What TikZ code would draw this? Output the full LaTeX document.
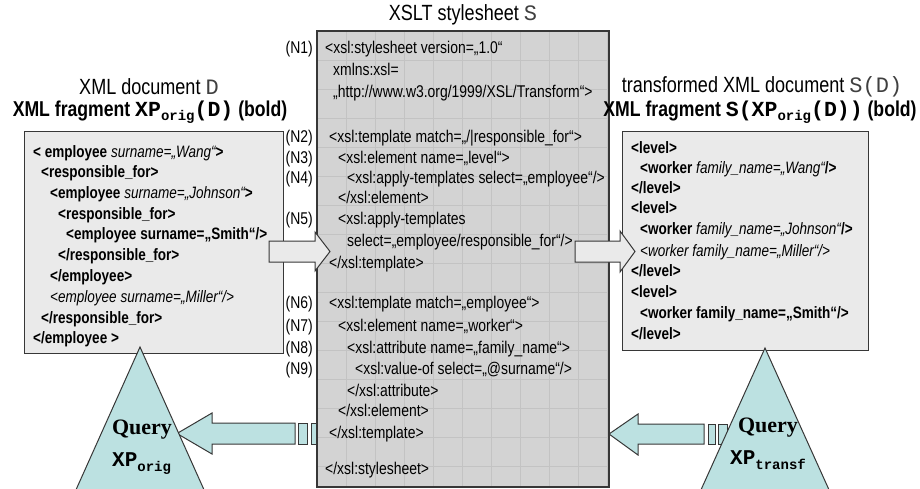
\documentclass[tikz,border=0pt]{standalone}
\usepackage{fontspec}
\setmainfont{Liberation Sans}[FakeStretch=0.82]
\setmonofont{Liberation Mono}
\newfontfamily\qserif{Liberation Serif}

\definecolor{sheetfill}{RGB}{211,211,211}
\definecolor{sheetgrid}{RGB}{195,195,195}
\definecolor{docfill}{RGB}{234,234,234}
\definecolor{queryfill}{RGB}{188,225,225}
\definecolor{edge}{RGB}{55,55,55}

\newcommand\attr[1]{{\mdseries\itshape #1}}

\tikzset{
  codeline/.style={anchor=base west, inner sep=0pt, font=\fontsize{17}{20}\selectfont},
  docline/.style={anchor=base west, inner sep=0pt, font=\fontsize{16.5}{20}\selectfont\bfseries},
  nlabel/.style={anchor=base east, inner sep=0pt, font=\fontsize{17}{20}\selectfont},
  heading/.style={inner sep=0pt, font=\fontsize{22}{24}\selectfont},
  boldheading/.style={inner sep=0pt, font=\fontsize{21.5}{24}\selectfont\bfseries},
  docbox/.style={draw=edge, line width=1pt, fill=docfill},
  blockarrow/.style={draw=edge, line width=1pt, fill=docfill, line join=miter},
  queryarrow/.style={draw=edge, line width=1pt, fill=queryfill, line join=miter},
  querytri/.style={draw=edge, line width=1pt, fill=queryfill, line join=miter},
  querylabel/.style={inner sep=0pt, font=\qserif\bfseries\fontsize{22}{24}\selectfont},
  querysub/.style={inner sep=0pt, anchor=base west, font=\ttfamily\bfseries\fontsize{21}{24}\selectfont},
}

\begin{document}
\begin{tikzpicture}[x=1pt, y=-1pt]
\useasboundingbox (0,0) rectangle (920,488);
\clip (0,0) rectangle (920,488);

% ---------- cyan query arrows (behind the stylesheet and the triangles)
\coordinate (qlt) at (177,433.5);
\draw[queryarrow] (qlt) -- (212,413) -- (212,423) -- (295,423) -- (295,444)
   -- (212,444) -- (212,454) -- cycle;
\draw[queryarrow] (298,423) rectangle (307,444);
\draw[queryarrow] (311,423) rectangle (320,444);

\coordinate (qrt) at (609,434);
\draw[queryarrow] (qrt) -- (638,414) -- (638,424) -- (704,424) -- (704,444)
   -- (638,444) -- (638,455) -- cycle;
\draw[queryarrow] (708,424) rectangle (715,444);
\draw[queryarrow] (718,424) rectangle (727,444);

% ---------- XSLT stylesheet panel with its faint grid
\node[heading] (sheettitle) at (463,15) {XSLT stylesheet {\ttfamily\color{black!75}S}};
\fill[sheetfill] (317,31) rectangle (609,487);
\begin{scope}
  \clip (317,31) rectangle (609,487);
  \foreach \k in {1,...,10} \draw[sheetgrid, line width=0.8pt] (317+29*\k,31) -- (317+29*\k,487);
  \foreach \k in {1,...,15} \draw[sheetgrid, line width=0.8pt] (317,31+29*\k) -- (609,31+29*\k);
\end{scope}
\draw[edge, line width=1.3pt] (317,31) rectangle (609,487);

\node[codeline] (s1)  at (325,53)  {<xsl:stylesheet version=„1.0“};
\node[codeline] (s2)  at (333,75)  {xmlns:xsl=};
\node[codeline] (s3)  at (333,97)  {„http://www.w3.org/1999/XSL/Transform“>};
\node[codeline] (s4)  at (329,142) {<xsl:template match=„/|responsible\_for“>};
\node[codeline] (s5)  at (338,163) {<xsl:element name=„level“>};
\node[codeline] (s6)  at (347,183) {<xsl:apply-templates select=„employee“/>};
\node[codeline] (s7)  at (338,203) {</xsl:element>};
\node[codeline] (s8)  at (338,224) {<xsl:apply-templates};
\node[codeline] (s9)  at (347,246) {select=„employee/responsible\_for“/>};
\node[codeline] (s10) at (329,268) {</xsl:template>};
\node[codeline] (s11) at (329,308) {<xsl:template match=„employee“>};
\node[codeline] (s12) at (338,331) {<xsl:element name=„worker“>};
\node[codeline] (s13) at (347,353) {<xsl:attribute name=„family\_name“>};
\node[codeline] (s14) at (355,374) {<xsl:value-of select=„@surname“/>};
\node[codeline] (s15) at (347,396) {</xsl:attribute>};
\node[codeline] (s16) at (338,416) {</xsl:element>};
\node[codeline] (s17) at (329,438) {</xsl:template>};
\node[codeline] (s18) at (325,474) {</xsl:stylesheet>};

\node[nlabel] (n1) at (313,53)  {(N1)};
\node[nlabel] (n2) at (313,142) {(N2)};
\node[nlabel] (n3) at (313,163) {(N3)};
\node[nlabel] (n4) at (313,183) {(N4)};
\node[nlabel] (n5) at (313,224) {(N5)};
\node[nlabel] (n6) at (313,308) {(N6)};
\node[nlabel] (n7) at (313,331) {(N7)};
\node[nlabel] (n8) at (313,353) {(N8)};
\node[nlabel] (n9) at (313,374) {(N9)};

% ---------- original XML document
\node[heading] (dtitle) at (149,87) {XML document {\ttfamily\color{black!75}D}};
\node[boldheading] (dfrag) at (150,112) {XML fragment {\ttfamily XP\raisebox{-0.4ex}{\fontsize{14}{14}\selectfont orig}(D)} (bold)};
\draw[docbox] (24,131) rectangle (283,353);
\node[docline] (d1)  at (33,157)   {< employee\attr{ surname=„Wang“}>};
\node[docline] (d2)  at (41,177.5) {<responsible\_for>};
\node[docline] (d3)  at (50,198)   {<employee\attr{ surname=„Johnson“}>};
\node[docline] (d4)  at (58,219)   {<responsible\_for>};
\node[docline] (d5)  at (66,239.5) {<employee surname=„Smith“/>};
\node[docline] (d6)  at (58,260)   {</responsible\_for>};
\node[docline] (d7)  at (50,281)   {</employee>};
\node[docline] (d8)  at (50,302)   {\attr{<employee surname=„Miller“/>}};
\node[docline] (d9)  at (41,323)   {</responsible\_for>};
\node[docline] (d10) at (33,343)   {</employee >};

% ---------- transformed XML document
\node[heading] (ttitle) at (762,87) {transformed XML document {\ttfamily\color{black!75}S(D)}};
\node[boldheading] (tfrag) at (760,112) {XML fragment {\ttfamily S(XP\raisebox{-0.4ex}{\fontsize{14}{14}\selectfont orig}(D))} (bold)};
\draw[docbox] (622,131) rectangle (868,350);
\node[docline] (t1)  at (631,153) {<level>};
\node[docline] (t2)  at (640,173) {<worker\attr{ family\_name=„Wang“}/>};
\node[docline] (t3)  at (631,193) {</level>};
\node[docline] (t4)  at (631,213) {<level>};
\node[docline] (t5)  at (640,234) {<worker\attr{ family\_name=„Johnson“}/>};
\node[docline] (t6)  at (640,256) {\attr{<worker family\_name=„Miller“/>}};
\node[docline] (t7)  at (631,276) {</level>};
\node[docline] (t8)  at (631,297) {<level>};
\node[docline] (t9)  at (640,318) {<worker family\_name=„Smith“/>};
\node[docline] (t10) at (631,339) {</level>};

% ---------- transformation arrows
\draw[blockarrow] (269,241) -- (315,241) -- (315,232) -- (330,251.5) -- (315,271)
   -- (315,262) -- (269,262) -- cycle;
\draw[blockarrow] (575,241) -- (620,241) -- (620,231) -- (635,251.5) -- (620,272)
   -- (620,262) -- (575,262) -- cycle;

% ---------- query triangles
\draw[querytri] (140,347) -- (205,492) -- (75,492) -- cycle;
\draw[querytri] (765,348) -- (830,492) -- (700,492) -- cycle;

\node[querylabel] (q1) at (142,430) {Query};
\node[querysub] (x1) at (112,466) {XP\raisebox{-0.45ex}{\fontsize{14}{14}\selectfont orig}};
\node[querylabel] (q2) at (768,428) {Query};
\node[querysub] (x2) at (730,464) {XP\raisebox{-0.45ex}{\fontsize{14}{14}\selectfont transf}};
\end{tikzpicture}
\end{document}
